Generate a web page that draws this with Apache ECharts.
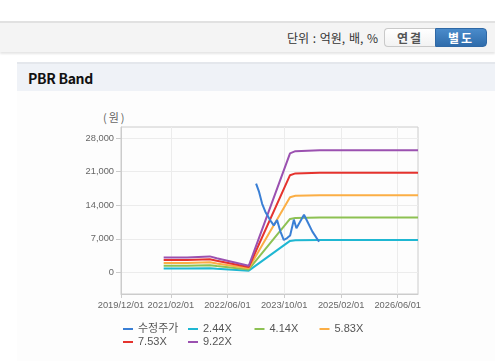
<!DOCTYPE html>
<html>
<head>
<meta charset="utf-8">
<script src="https://cdn.jsdelivr.net/npm/echarts@6/dist/echarts.min.js"></script>
<style>
  html, body { margin: 0; padding: 0; }
  body { width: 495px; height: 361px; overflow: hidden; background: #fff; position: relative;
         font-family: 'Liberation Sans', 'Noto Sans CJK KR', sans-serif; }
  .topbar { position: absolute; left: 0; top: 21px; width: 495px; height: 29px; background: #f4f4f4;
            border-top: 2px solid #e1e1e1; box-shadow: 0 2px 2px rgba(0,0,0,0.10); }
  .unit { position: absolute; left: 287px; top: 30px; font-size: 12px; line-height: 16px; color: #333;
          font-family: 'Noto Sans CJK KR', sans-serif; white-space: nowrap; word-spacing: 1px; }
  .btn { position: absolute; top: 28px; height: 17px; line-height: 17px; font-size: 12px; font-weight: bold;
         text-align: center; font-family: 'Noto Sans CJK KR', sans-serif; letter-spacing: 2px; }
  .b1 { left: 384px; width: 50px; border: 1px solid #c9c9c9; border-right: none; border-radius: 4px 0 0 4px;
        background: linear-gradient(#ffffff, #f2f2f2); color: #555; }
  .b2 { left: 435px; width: 50px; border: 1px solid #2f68a5; border-radius: 0 4px 4px 0;
        background: linear-gradient(#4a8bcb, #2f6cab); color: #fff; }
  .phead { position: absolute; left: 17px; top: 62px; width: 478px; height: 27px; background: #eff2f7;
           border-top: 2px solid #e4e7ec; }
  .ptitle { position: absolute; left: 28px; top: 69px; font-size: 14px; line-height: 18px; font-weight: bold;
            color: #111; font-family: 'Noto Sans CJK KR', sans-serif; letter-spacing: -0.3px; }
  .pbody { position: absolute; left: 17px; top: 91px; width: 478px; height: 270px; background: #fdfdfd; }
  .yname { position: absolute; left: 103px; top: 110px; font-size: 11px; line-height: 14px; color: #666;
           font-family: 'Noto Sans CJK KR', sans-serif; letter-spacing: 2px; }
  #chart { position: absolute; left: 0; top: 0; width: 495px; height: 361px; z-index: 2; }
</style>
</head>
<body>
<div class="topbar"></div>
<div class="unit">단위 : 억원, 배, %</div>
<div class="btn b1">연결</div>
<div class="btn b2">별도</div>
<div class="phead"></div>
<div class="ptitle">PBR Band</div>
<div class="pbody"></div>
<div class="yname">(원)</div>
<div id="chart"></div>
<script>
// ---- data ----
var seriesNames = ['수정주가', '2.44X', '4.14X', '5.83X', '7.53X', '9.22X'];
var xTickDates = ['2019-12-01', '2021-02-01', '2022-06-01', '2023-10-01', '2025-02-01', '2026-06-01'];
var yTickValues = [0, 7000, 14000, 21000, 28000];

var priceDates = ['2023-02-02', '2023-02-26', '2023-03-26', '2023-04-23', '2023-06-05', '2023-07-04',
                  '2023-08-01', '2023-08-30', '2023-09-28', '2023-10-26', '2023-11-21', '2023-12-23',
                  '2024-01-14', '2024-01-25', '2024-03-19', '2024-04-17', '2024-05-30', '2024-07-26'];
var priceValues = [18500, 16900, 14300, 12600, 10800, 9800,
                   10900, 8500, 6750, 7150, 7700, 11000,
                   9200, 8900, 12000, 10600, 8500, 6400];

var bandDates = ['2020-12-01', '2021-06-20', '2021-07-01', '2022-01-01', '2022-03-01', '2022-12-01',
                 '2023-11-20', '2024-01-05', '2024-08-01', '2026-11-22'];
var band244 = [830, 830, 880, 880, 780, 370, 6560, 6690, 6730, 6730];
var band414 = [1410, 1410, 1500, 1500, 1320, 620, 11140, 11340, 11430, 11430];
var band583 = [1980, 1980, 2110, 2110, 1870, 870, 15680, 15970, 16090, 16090];
var band753 = [2560, 2560, 2730, 2730, 2410, 1130, 20260, 20630, 20780, 20780];
var band922 = [3130, 3130, 3340, 3340, 2950, 1380, 24800, 25260, 25450, 25450];

var colors = ['#3a7fd5', '#1fb7d2', '#8dc153', '#fbae45', '#e5332e', '#9b51b0'];

// ---- build ----
function ts(s) { var p = s.split('-'); return Date.UTC(+p[0], +p[1] - 1, +p[2]); }
function zip(d, v) { return d.map(function (x, i) { return [ts(x), v[i]]; }); }
function pad(n) { return (n < 10 ? '0' : '') + n; }

var seriesData = [zip(priceDates, priceValues), zip(bandDates, band244), zip(bandDates, band414),
                  zip(bandDates, band583), zip(bandDates, band753), zip(bandDates, band922)];

var font = "'Liberation Sans', 'Noto Sans CJK KR', sans-serif";
var legendPos = [[123, 323], [188, 323], [254.5, 323], [319.5, 323], [123, 336], [188, 336]];

var chart = echarts.init(document.getElementById('chart'), null, { renderer: 'canvas' });
chart.setOption({
  animation: false,
  backgroundColor: 'transparent',
  color: colors,
  grid: { left: 121, right: 77, top: 127, bottom: 67, show: true, borderColor: '#cccccc', borderWidth: 1,
          backgroundColor: 'transparent' },
  legend: seriesNames.map(function (n, i) {
    return { data: [n], left: legendPos[i][0], top: legendPos[i][1], padding: 0, itemWidth: 10, itemHeight: 2,
             icon: 'rect', itemGap: 0,
             textStyle: { fontSize: 11, color: '#555', fontFamily: font, lineHeight: 12 } };
  }),
  xAxis: {
    type: 'value',
    min: ts('2019-12-01'),
    max: ts('2026-11-22'),
    axisLine: { show: true, onZero: false, lineStyle: { color: '#cccccc' } },
    axisTick: { show: true, length: 4, lineStyle: { color: '#cccccc' }, customValues: xTickDates.map(ts) },
    splitLine: { show: true, lineStyle: { color: '#ececec' } },
    axisLabel: {
      customValues: xTickDates.map(ts), margin: 7, fontSize: 9.3, color: '#666', fontFamily: font,
      showMinLabel: true, showMaxLabel: true, hideOverlap: false,
      formatter: function (v) { var d = new Date(v); return d.getUTCFullYear() + '/' + pad(d.getUTCMonth() + 1) + '/' + pad(d.getUTCDate()); }
    }
  },
  yAxis: {
    type: 'value',
    min: -4500,
    max: 30300,
    axisLine: { show: true, lineStyle: { color: '#cccccc' } },
    axisTick: { show: true, length: 5, lineStyle: { color: '#cccccc' }, customValues: yTickValues },
    splitLine: { show: true, lineStyle: { color: '#ececec' } },
    axisLabel: {
      customValues: yTickValues, margin: 7, fontSize: 9.3, color: '#666', fontFamily: font,
      formatter: function (v) { return v.toLocaleString('en-US'); }
    }
  },
  series: seriesNames.map(function (n, i) {
    return { name: n, type: 'line', data: seriesData[i], showSymbol: false, symbol: 'none',
             lineStyle: { width: 2, color: colors[i] }, itemStyle: { color: colors[i] },
             z: i === 0 ? 5 : 2 };
  })
});
</script>
</body>
</html>
